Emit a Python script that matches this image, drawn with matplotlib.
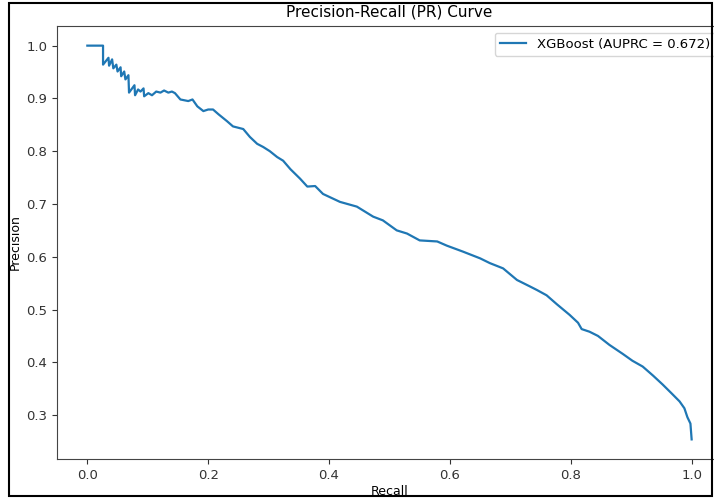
import matplotlib
matplotlib.use("Agg")
import matplotlib.pyplot as plt
from matplotlib.patches import Rectangle

# Precision-recall points for the XGBoost classifier
recall = [
    0.000, 0.026, 0.026, 0.035, 0.036, 0.041, 0.043, 0.048, 0.050, 0.055,
    0.056, 0.061, 0.063, 0.068, 0.069, 0.078, 0.079, 0.084, 0.088, 0.093,
    0.094, 0.101, 0.107, 0.114, 0.121, 0.127, 0.134, 0.140, 0.145, 0.154,
    0.167, 0.174, 0.182, 0.192, 0.200, 0.208, 0.217, 0.231, 0.241, 0.258,
    0.269, 0.281, 0.291, 0.302, 0.314, 0.324, 0.336, 0.352, 0.364, 0.377,
    0.390, 0.418, 0.446, 0.473, 0.489, 0.512, 0.529, 0.550, 0.579, 0.595,
    0.621, 0.650, 0.666, 0.688, 0.711, 0.732, 0.744, 0.760, 0.777, 0.798,
    0.812, 0.818, 0.831, 0.845, 0.864, 0.886, 0.902, 0.919, 0.936, 0.952,
    0.967, 0.980, 0.988, 0.993, 0.998, 1.000,
]
precision = [
    1.000, 1.000, 0.964, 0.977, 0.962, 0.974, 0.957, 0.964, 0.951, 0.959,
    0.942, 0.951, 0.936, 0.944, 0.911, 0.925, 0.906, 0.917, 0.913, 0.919,
    0.904, 0.910, 0.906, 0.913, 0.911, 0.915, 0.911, 0.913, 0.910, 0.898,
    0.895, 0.898, 0.885, 0.876, 0.879, 0.879, 0.870, 0.857, 0.847, 0.842,
    0.827, 0.814, 0.808, 0.800, 0.789, 0.782, 0.766, 0.748, 0.733, 0.734,
    0.719, 0.704, 0.695, 0.676, 0.669, 0.650, 0.644, 0.631, 0.629, 0.621,
    0.610, 0.597, 0.588, 0.578, 0.556, 0.544, 0.537, 0.527, 0.510, 0.490,
    0.475, 0.463, 0.458, 0.450, 0.433, 0.416, 0.403, 0.392, 0.375, 0.358,
    0.341, 0.326, 0.313, 0.296, 0.284, 0.254,
]
auprc = 0.672
model_name = "XGBoost"

fig = plt.figure(figsize=(7.14, 4.99), dpi=100)
ax = fig.add_axes([0.080, 0.080, 0.931, 0.868])

ax.plot(recall, precision, color="#1f77b4", linewidth=1.6,
        label=f"{model_name} (AUPRC = {auprc:.3f})")
ax.set_title("Precision-Recall (PR) Curve", fontsize=11, pad=7)
ax.set_xlabel("Recall", fontsize=9, labelpad=2)
ax.set_ylabel("Precision", fontsize=9, labelpad=3)
ax.tick_params(labelsize=9.5, colors="#333333", labelcolor="#333333")
for spine in ax.spines.values():
    spine.set_edgecolor("#444444")
ax.legend(loc="upper right", fontsize=9.5)

# thin black frame around the whole figure
fig.patches.append(Rectangle((0.013, 0.006), 0.984, 0.988, transform=fig.transFigure,
                             fill=False, edgecolor="black", linewidth=1.5, zorder=10))

fig.savefig("out.png", dpi=100)
